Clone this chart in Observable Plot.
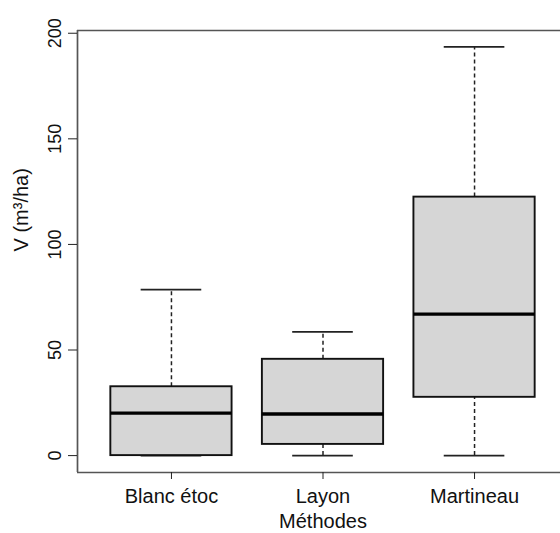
<!DOCTYPE html>
<html><head><meta charset="utf-8">
<script src="https://cdn.jsdelivr.net/npm/d3@7"></script>
<script src="https://cdn.jsdelivr.net/npm/@observablehq/plot@0.6"></script>
<style>body{margin:0;background:#fff;overflow:hidden} svg{display:block}</style>
</head><body><div id="chart"></div>
<script>
const categories = ["Blanc étoc", "Layon", "Martineau"];
const whiskerLow = [0, 0, 0];
const quart1 = [0, 5.3, 27.6];
const medians = [20.1, 19.7, 67.0];
const quart3 = [32.6, 45.6, 122.4];
const whiskerHigh = [78.6, 58.6, 193.5];
const yTicks = [0, 50, 100, 150, 200];
const yLabel = "V (m³/ha)";
const xLabel = "Méthodes";

const boxes = categories.map((c, i) => ({
  cat: c, pos: i + 1,
  lo: whiskerLow[i], q1: quart1[i], med: medians[i], q3: quart3[i], hi: whiskerHigh[i]
}));
const halfBox = 0.4, halfCap = 0.2;

const dashed = {stroke: "#222", strokeWidth: 1.5, strokeDasharray: "4,3"};
const solid = {stroke: "#222", strokeWidth: 1.8};

const chart = Plot.plot({
  width: 560, height: 533,
  marginLeft: 77, marginRight: 0, marginTop: 30, marginBottom: 61,
  style: {fontFamily: "'Liberation Sans', Arial, sans-serif", background: "#fff", color: "#111"},
  x: {domain: [0.38, 3.62], range: [77, 568]},
  y: {domain: [-8, 201.3]},
  marks: [
    Plot.ruleX(boxes, {x: "pos", y1: "q3", y2: "hi", ...dashed}),
    Plot.ruleX(boxes, {x: "pos", y1: "lo", y2: "q1", ...dashed}),
    Plot.ruleY(boxes, {y: "hi", x1: d => d.pos - halfCap, x2: d => d.pos + halfCap, ...solid}),
    Plot.ruleY(boxes, {y: "lo", x1: d => d.pos - halfCap, x2: d => d.pos + halfCap, ...solid}),
    Plot.rect(boxes, {x1: d => d.pos - halfBox, x2: d => d.pos + halfBox, y1: "q1", y2: "q3",
      fill: "#d6d6d6", stroke: "#111", strokeWidth: 1.9}),
    Plot.ruleY(boxes, {y: "med", x1: d => d.pos - halfBox, x2: d => d.pos + halfBox, stroke: "#000", strokeWidth: 3.4}),
    Plot.ruleY([-8, 201.3], {stroke: "#555", strokeWidth: 1.7}),
    Plot.ruleX([0.38], {stroke: "#555", strokeWidth: 1.7}),
    Plot.axisX({ticks: [1, 2, 3], tickFormat: d => categories[d - 1], tickSize: 7, tickPadding: 9,
      fontSize: 20, label: null, stroke: "#222"}),
    Plot.axisY({ticks: yTicks, tickSize: 9, tickFormat: () => "", label: null, stroke: "#222"}),
    Plot.text(yTicks, {y: d => d, text: d => String(d), frameAnchor: "left", dx: -17, rotate: -90,
      lineAnchor: "bottom", textAnchor: "middle", fontSize: 18, fill: "#111"}),
    Plot.text([yLabel], {frameAnchor: "left", dx: -56, rotate: -90, fontSize: 20, fill: "#111"}),
    Plot.text([xLabel], {x: 2, frameAnchor: "bottom", dy: 55, lineAnchor: "bottom", fontSize: 20, fill: "#111"})
  ]
});
document.getElementById("chart").appendChild(chart);
</script>
</body></html>
